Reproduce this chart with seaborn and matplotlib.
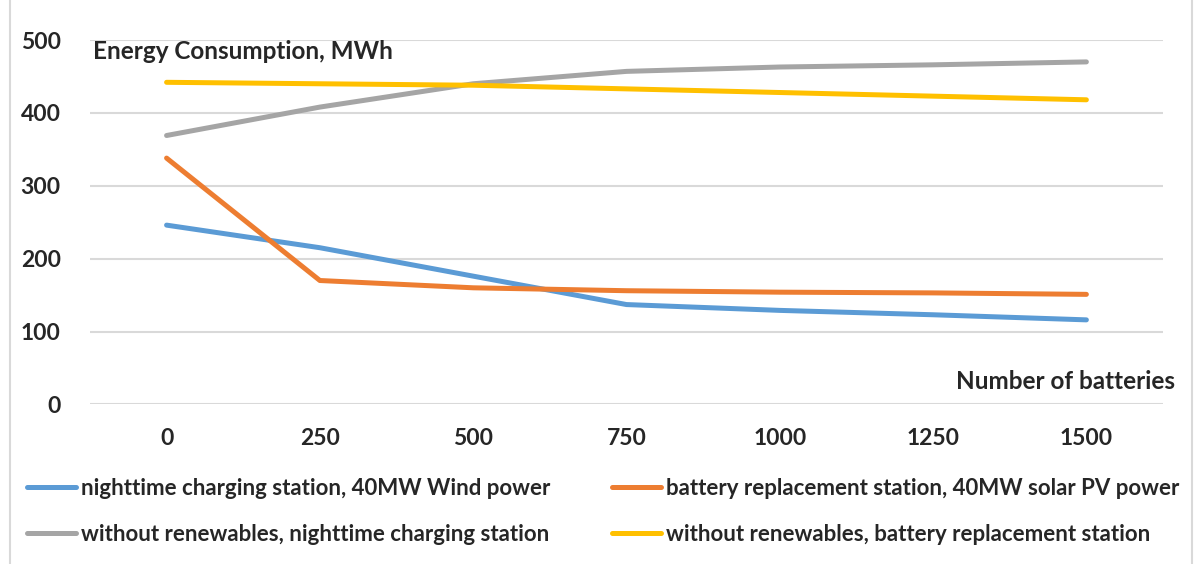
import numpy as np
import pandas as pd
import matplotlib
matplotlib.use("Agg")
import matplotlib.pyplot as plt
import seaborn as sns
from matplotlib.patches import Rectangle

# Energy consumption vs number of batteries
batteries = ["0", "250", "500", "750", "1000", "1250", "1500"]
wind_night = [246, 215, 176, 137, 129, 123, 116]
solar_swap = [338, 170, 160, 156, 154, 153, 151]
norenew_night = [369, 408, 440, 457, 463, 466, 470]
norenew_swap = [442, 440, 438, 433, 428, 423, 418]

series = {
    "nighttime charging station, 40MW Wind power": wind_night,
    "without renewables, nighttime charging station": norenew_night,
    "battery replacement station, 40MW solar PV power": solar_swap,
    "without renewables, battery replacement station": norenew_swap,
}
colors = ["#5B9BD5", "#A5A5A5", "#ED7D31", "#FFC000"]

df = pd.concat(
    [pd.DataFrame({"batteries": batteries, "energy": v, "series": k}) for k, v in series.items()],
    ignore_index=True,
)

sns.set_style("white")
plt.rcParams["font.family"] = ["Lato", "DejaVu Sans"]
plt.rcParams["font.weight"] = "bold"

fig = plt.figure(figsize=(11.99, 5.64), dpi=100)
ax = fig.add_axes([0.075, 0.283, 0.895, 0.646])

order = list(series.keys())
draw_order = [order[0], order[2], order[1], order[3]]
pal = dict(zip(order, colors))
for name in draw_order:
    sub = df[df["series"] == name]
    sns.lineplot(data=sub, x="batteries", y="energy", color=pal[name], lw=3.6,
                 sort=False, ax=ax, label=name, solid_capstyle="round")

ax.set_ylim(0, 500)
ax.set_xlim(-0.5, 6.5)
ax.set_yticks(range(0, 501, 100))
ax.grid(axis="y", color="#d9d9d9", lw=1.5)
ax.set_axisbelow(True)
for s in ax.spines.values():
    s.set_visible(False)
ax.tick_params(axis="both", length=0, labelsize=16.5)
ax.tick_params(axis="y", pad=21)
ax.tick_params(axis="x", pad=17)
for t in ax.get_xticklabels() + ax.get_yticklabels():
    t.set_fontweight("bold")
ax.set_xlabel("")
ax.set_ylabel("")
ax.get_legend().remove()

ax.text(0.003, 0.999, "Energy Consumption, MWh", transform=ax.transAxes,
        fontsize=17.5, fontweight="bold", ha="left", va="top")
ax.text(1.011, 0.03, "Number of batteries", transform=ax.transAxes,
        fontsize=17.5, fontweight="bold", ha="right", va="bottom")

handles, labels = ax.get_legend_handles_labels()
hmap = dict(zip(labels, handles))
fig.legend([hmap[n] for n in order], order, ncol=2, frameon=False,
           loc="upper left", bbox_to_anchor=(0.015, 0.168), fontsize=16,
           handlelength=2.2, handletextpad=0.25, columnspacing=2.75,
           labelspacing=1.1, borderaxespad=0)

fig.patches.append(Rectangle((0.008, -0.01), 0.986, 1.02, transform=fig.transFigure,
                             fill=False, edgecolor="#d9d9d9", lw=1.5))

fig.savefig("out.png", dpi=100)
